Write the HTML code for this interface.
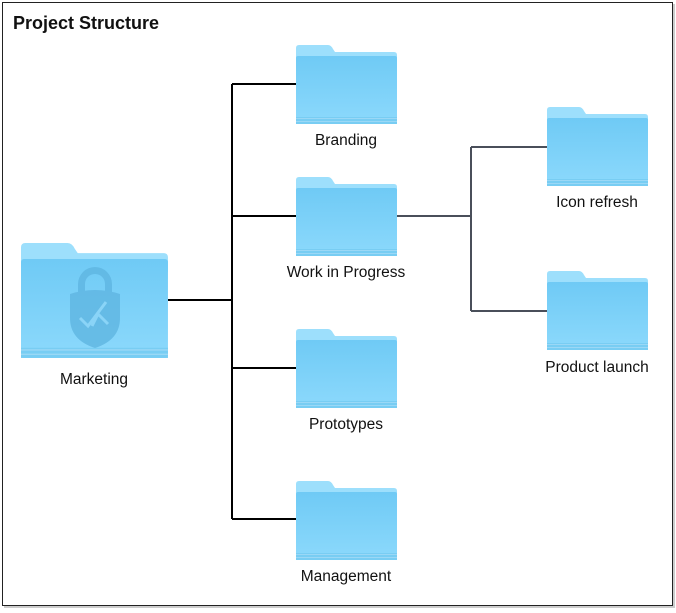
<!DOCTYPE html>
<html><head><style>
html,body{margin:0;padding:0;background:#fff;}
svg{display:block;}
text{font-family:"Liberation Sans",sans-serif;font-size:15.5px;fill:#111;}
</style></head><body>
<svg width="676" height="613" viewBox="0 0 676 613" xmlns="http://www.w3.org/2000/svg">
<defs>
<linearGradient id="body" x1="0" y1="0" x2="0" y2="1">
<stop offset="0" stop-color="#6fcaf5"/><stop offset="1" stop-color="#8cd9fc"/>
</linearGradient>
<g id="f">
<path d="M0,3 Q0,0 3,0 L32,0 Q35,0 37,4 L39,7 L98,7 Q101,7 101,10 L101,20 L0,20 Z" fill="#9ddffc"/>
<rect x="0" y="11" width="101" height="68" rx="2" fill="url(#body)"/>
<rect x="0" y="72" width="101" height="7" fill="#78cdf3"/>
<line x1="0" y1="73.5" x2="101" y2="73.5" stroke="#9ad8f6" stroke-width="1"/>
<line x1="0" y1="76.5" x2="101" y2="76.5" stroke="#9ad8f6" stroke-width="1"/>
</g>
</defs>
<rect x="4" y="4" width="671" height="604" fill="#ccc"/>
<rect x="2.5" y="2.5" width="670" height="603" fill="#fff" stroke="#222" stroke-width="1"/>
<text x="13" y="29" style="font-size:18px;font-weight:bold">Project Structure</text>
<g stroke="#000" stroke-width="2" fill="none">
<path d="M168,300 H232 M232,84 V519 M232,84 H296 M232,216 H296 M232,368 H296 M232,519 H296"/>
</g>
<g stroke="#4a4f5a" stroke-width="2" fill="none">
<path d="M397,216 H471 M471,147 V311 M471,147 H547 M471,311 H547"/>
</g>
<g transform="translate(21,243) scale(1.455,1.455)">
<use href="#f"/>
</g>
<g fill="#5fb6e2" opacity="0.8">
<path d="M78,295 V284 a17,17 0 0 1 34,0 V295 h-7 V284 a10,10 0 0 0 -20,0 V295 Z"/>
<path d="M70,294 Q95,286 120,294 V318 Q120,340 95,348 Q70,340 70,318 Z"/>
</g>
<path d="M80,318 l8,8 l18,-24 M92,326 l6,-12 l10,10" stroke="#8ad4f7" stroke-width="3" fill="none"/>
<use href="#f" x="296" y="45"/>
<use href="#f" x="296" y="177"/>
<use href="#f" x="296" y="329"/>
<use href="#f" x="296" y="481"/>
<use href="#f" x="547" y="107"/>
<use href="#f" x="547" y="271"/>
<g text-anchor="middle">
<text x="94" y="384">Marketing</text>
<text x="346" y="145">Branding</text>
<text x="346" y="277">Work in Progress</text>
<text x="346" y="429">Prototypes</text>
<text x="346" y="581">Management</text>
<text x="597" y="207">Icon refresh</text>
<text x="597" y="372">Product launch</text>
</g>
</svg>
</body></html>
